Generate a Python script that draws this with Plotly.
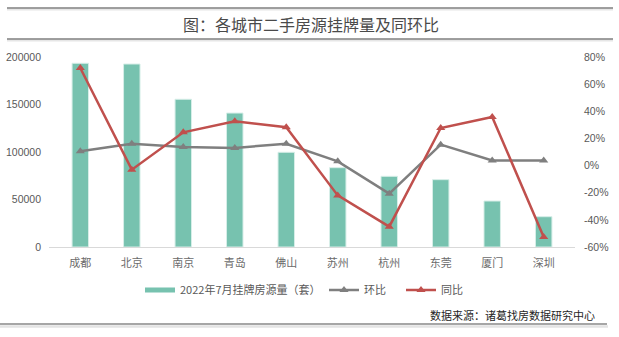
import plotly.graph_objects as go

cities = ["成都", "北京", "南京", "青岛", "佛山", "苏州", "杭州", "东莞", "厦门", "深圳"]
listings = [193400, 192600, 155500, 141000, 99700, 83500, 74400, 70900, 48400, 31900]
mom = [0.105, 0.161, 0.137, 0.130, 0.161, 0.031, -0.207, 0.154, 0.038, 0.038]
yoy = [0.719, -0.030, 0.245, 0.326, 0.282, -0.220, -0.450, 0.277, 0.358, -0.526]

left_ticks = [0, 50000, 100000, 150000, 200000]
left_text = ["0", "50000", "100000", "150000", "200000"]
right_ticks = [-0.6, -0.4, -0.2, 0, 0.2, 0.4, 0.6, 0.8]
right_text = ["-60%", "-40%", "-20%", "0%", "20%", "40%", "60%", "80%"]

W, H = 619, 337
L, R, T, B = 49, 44, 57, 90
BAR_C, MOM_C, YOY_C = "#77C2AF", "#7F7F7F", "#C0504D"

fig = go.Figure()
fig.add_trace(go.Bar(
    x=cities, y=listings, name="2022年7月挂牌房源量（套）", showlegend=False,
    marker=dict(color=BAR_C, line=dict(color="#D7EEE8", width=1)),
    width=0.32, yaxis="y",
))
# legend entry for the bar series (flat wide swatch as in the reference)
fig.add_trace(go.Scatter(
    x=[None], y=[None], name="2022年7月挂牌房源量（套）", mode="lines",
    line=dict(color=BAR_C, width=5), legendwidth=139, hoverinfo="skip",
))
fig.add_trace(go.Scatter(
    x=cities, y=mom, name="环比", mode="lines+markers", yaxis="y2",
    line=dict(color=MOM_C, width=2.5), legendwidth=32,
    marker=dict(symbol="triangle-up", size=8, color=MOM_C),
))
fig.add_trace(go.Scatter(
    x=cities, y=yoy, name="同比", mode="lines+markers", yaxis="y2",
    line=dict(color=YOY_C, width=2.5),
    marker=dict(symbol="triangle-up", size=8, color=YOY_C),
))

def px(xp):
    return (xp - L) / (W - L - R)

def py(yp):
    return (H - B - yp) / (H - T - B)

shapes = []
for yy in (8, 39):
    shapes.append(dict(type="line", xref="paper", yref="paper", x0=px(7), x1=px(613),
                       y0=py(yy + 1.5), y1=py(yy + 1.5), line=dict(color="#E6E6E6", width=2)))
    shapes.append(dict(type="line", xref="paper", yref="paper", x0=px(7), x1=px(613),
                       y0=py(yy), y1=py(yy), line=dict(color="#7F7F7F", width=1.5)))
shapes.append(dict(type="line", xref="paper", yref="paper", x0=px(0), x1=px(608),
                   y0=py(326.5), y1=py(326.5), line=dict(color="#E3E3E3", width=2.5)))
shapes.append(dict(type="line", xref="paper", yref="paper", x0=px(0), x1=px(607),
                   y0=py(324), y1=py(324), line=dict(color="#A6A6A6", width=2)))

annotations = [
    dict(text="图：各城市二手房源挂牌量及同环比", xref="paper", yref="paper",
         x=px(311), y=py(24), xanchor="center", yanchor="middle", showarrow=False,
         font=dict(family="Noto Sans CJK SC", size=16, color="#4A4A4A")),
    dict(text="数据来源：诸葛找房数据研究中心", xref="paper", yref="paper",
         x=px(597), y=py(315), xanchor="right", yanchor="middle", showarrow=False,
         font=dict(family="Noto Sans CJK SC", size=11, color="#262626")),
]

fig.update_layout(
    width=W, height=H,
    margin=dict(l=L, r=R, t=T, b=B, autoexpand=False),
    paper_bgcolor="white", plot_bgcolor="white",
    shapes=shapes, annotations=annotations,
    font=dict(family="Noto Sans CJK SC", size=11, color="#595959"),
    xaxis=dict(showline=True, linecolor="#D9D9D9", linewidth=1, ticks="",
               ticklabelstandoff=6, automargin=False,
               tickfont=dict(family="Noto Sans CJK SC", size=11, color="#6B6B6B"),
               showgrid=False, zeroline=False),
    yaxis=dict(range=[0, 200000], tickvals=left_ticks, ticktext=left_text,
               showgrid=False, zeroline=False, showline=False, ticks="",
               ticklabelstandoff=7, automargin=False,
               tickfont=dict(family="Liberation Sans", size=10.5, color="#595959")),
    yaxis2=dict(range=[-0.6, 0.8], tickvals=right_ticks, ticktext=right_text,
                overlaying="y", side="right", showgrid=False, zeroline=False,
                showline=False, ticks="", ticklabelstandoff=8, automargin=False,
                tickfont=dict(family="Liberation Sans", size=10.5, color="#595959")),
    legend=dict(orientation="h", x=px(140), y=py(290), xanchor="left", yanchor="middle",
                font=dict(family="Noto Sans CJK SC", size=11, color="#595959"),
                traceorder="normal", itemwidth=30, bgcolor="rgba(0,0,0,0)"),
)

fig.write_html("out.html")
